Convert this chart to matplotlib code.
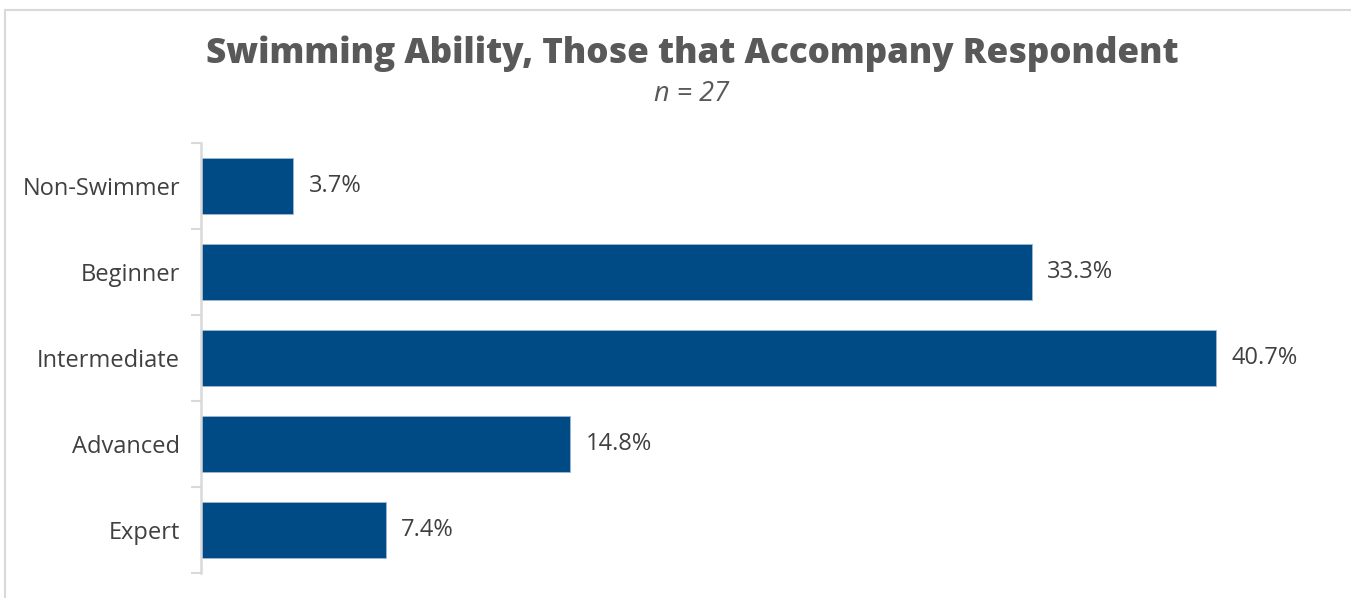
import matplotlib
matplotlib.use("Agg")
import matplotlib.pyplot as plt
from matplotlib.patches import Rectangle
import numpy as np

categories = ["Non-Swimmer", "Beginner", "Intermediate", "Advanced", "Expert"]
values = [3.7, 33.3, 40.7, 14.8, 7.4]
value_labels = ["3.7%", "33.3%", "40.7%", "14.8%", "7.4%"]

title = "Swimming Ability, Those that Accompany Respondent"
subtitle = "n = 27"

FONT = "Open Sans"
W, H = 1351, 598
fig = plt.figure(figsize=(W / 100, H / 100), dpi=100)
fig.patch.set_facecolor("white")

# light frame around the chart area
fig.patches.append(Rectangle((4.5 / W, -0.05), 1.2, (H - 9.5) / H + 0.05,
                             transform=fig.transFigure, fill=False,
                             edgecolor="#D9D9D9", linewidth=1.5))

ax = fig.add_axes([201 / W, 1 - 573 / H, (1341 - 201) / W, (573 - 143) / H])

y = np.arange(len(categories))
ax.barh(y, values, height=0.65, color="#004A86", edgecolor="#9DB8D3",
        linewidth=0.6)
ax.set_ylim(len(categories) - 0.5, -0.5)
ax.set_xlim(0, (1341 - 201) / 24.94)

for yi, v, lab in zip(y, values, value_labels):
    ax.text(v + 0.62, yi, lab, va="center", ha="left", fontsize=17,
            color="#404040", family=FONT)

ax.set_yticks(y)
ax.set_yticklabels(categories, fontsize=17, color="#404040", family=FONT)
ax.tick_params(axis="y", length=0, pad=15)
ax.set_yticks(np.arange(len(categories) + 1) - 0.5, minor=True)
ax.tick_params(axis="y", which="minor", length=7, width=1.5, color="#D9D9D9")
ax.set_xticks([])

for s in ["top", "right", "bottom"]:
    ax.spines[s].set_visible(False)
ax.spines["left"].set_color("#D9D9D9")
ax.spines["left"].set_linewidth(1.8)

fig.text(692 / W, 1 - 54 / H, title, ha="center", va="center",
         fontsize=25.2, fontweight="heavy", color="#595959", family=FONT)
fig.text(692 / W, 1 - 94 / H, subtitle, ha="center", va="center",
         fontsize=19.5, style="italic", color="#595959", family=FONT)

fig.savefig("out.png", dpi=100, facecolor="white")
